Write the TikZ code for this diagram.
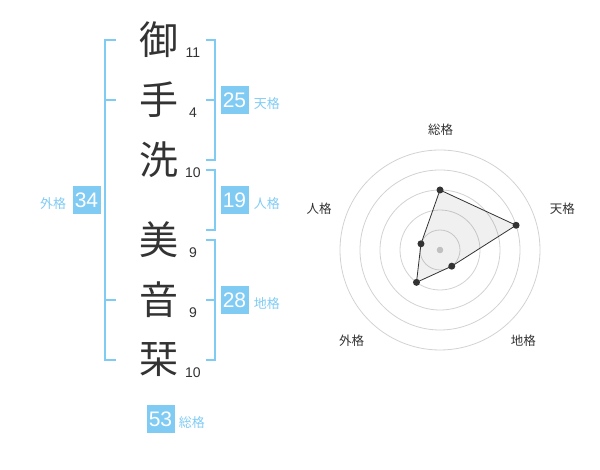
\documentclass[tikz,border=0pt]{standalone}
\usepackage{fontspec}
\setmainfont{Liberation Sans}
\newfontfamily\jp{Noto Sans CJK JP}
\usetikzlibrary{positioning}
\definecolor{sky}{HTML}{80CBF4}
\definecolor{ink}{HTML}{333333}

\begin{document}
\begin{tikzpicture}[x=1pt, y=1pt,
    kanji/.style={font=\jp\fontsize{39}{39}\selectfont, text=ink, inner sep=0},
    strokes/.style={font=\fontsize{14}{14}\selectfont, text=ink, inner sep=0},
    score/.style={fill=sky, text=white, minimum width=28, minimum height=28, inner sep=0, font=\fontsize{21}{21}\selectfont},
    kaku/.style={font=\jp\fontsize{13}{13}\selectfont, text=sky, inner sep=0, yshift=-4},
    axis/.style={font=\jp\fontsize{12.5}{12.5}\selectfont, text=ink, inner sep=0},
    brace/.style={sky, line width=2},
  ]
      \useasboundingbox (0,0) rectangle (600,470);

      % name, one character per row
      \foreach \ch/\n/\y [count=\i] in {御/11/430, 手/4/370, 洗/10/310, 美/9/230, 音/9/170, 栞/10/110} {
        \node[kanji] (k\i) at (159,\y) {\ch};
        \node[strokes] (s\i) at (193,\y-13) {\n};
      }

      % brackets
      \draw[brace] (116,430) -- (105,430) -- (105,110) -- (116,110);
      \draw[brace] (105,370) -- (116,370) (105,170) -- (116,170);
      \draw[brace] (206,430) -- (215,430) -- (215,310) -- (206,310);
      \draw[brace] (206,370) -- (215,370);
      \draw[brace] (206,300) -- (215,300) -- (215,240) -- (206,240);
      \draw[brace] (206,230) -- (215,230) -- (215,110) -- (206,110);
      \draw[brace] (206,170) -- (215,170);

      % scores
      \node[score] (ten) at (234.5,370) {25};
      \node[kaku, right=5pt of ten] {天格};
      \node[score] (jin) at (234.5,270) {19};
      \node[kaku, right=5pt of jin] {人格};
      \node[score] (chi) at (234.5,170) {28};
      \node[kaku, right=5pt of chi] {地格};
      \node[score] (gai) at (86.5,270) {34};
      \node[kaku, left=6pt of gai] {外格};
      \node[score] (sou) at (160.5,51) {53};
      \node[kaku, right=4pt of sou] {総格};

      % radar
      \begin{scope}[shift={(440,220)}]
        \foreach \r in {20,40,...,100} \draw[gray!35, line width=0.8] (0,0) circle (\r);
        \fill[gray!40] (0,0) circle (3.3);
        \coordinate (p1) at (90:60);
        \coordinate (p2) at (18:80);
        \coordinate (p3) at (-54:20);
        \coordinate (p4) at (-126:40);
        \coordinate (p5) at (162:20);
        \fill[black, opacity=0.06] (p1) -- (p2) -- (p3) -- (p4) -- (p5) -- cycle;
        \draw[ink, line width=0.8] (p1) -- (p2) -- (p3) -- (p4) -- (p5) -- cycle;
        \foreach \i in {1, ..., 5} \fill[ink] (p\i) circle (3.5);
        \node[axis] at (0.7,120) {総格};
        \node[axis] at (122.3,41.7) {天格};
        \node[axis] at (83.3,-91) {地格};
        \node[axis] at (-88.3,-91) {外格};
        \node[axis] at (-121,41.7) {人格};
      \end{scope}
\end{tikzpicture}
\end{document}
